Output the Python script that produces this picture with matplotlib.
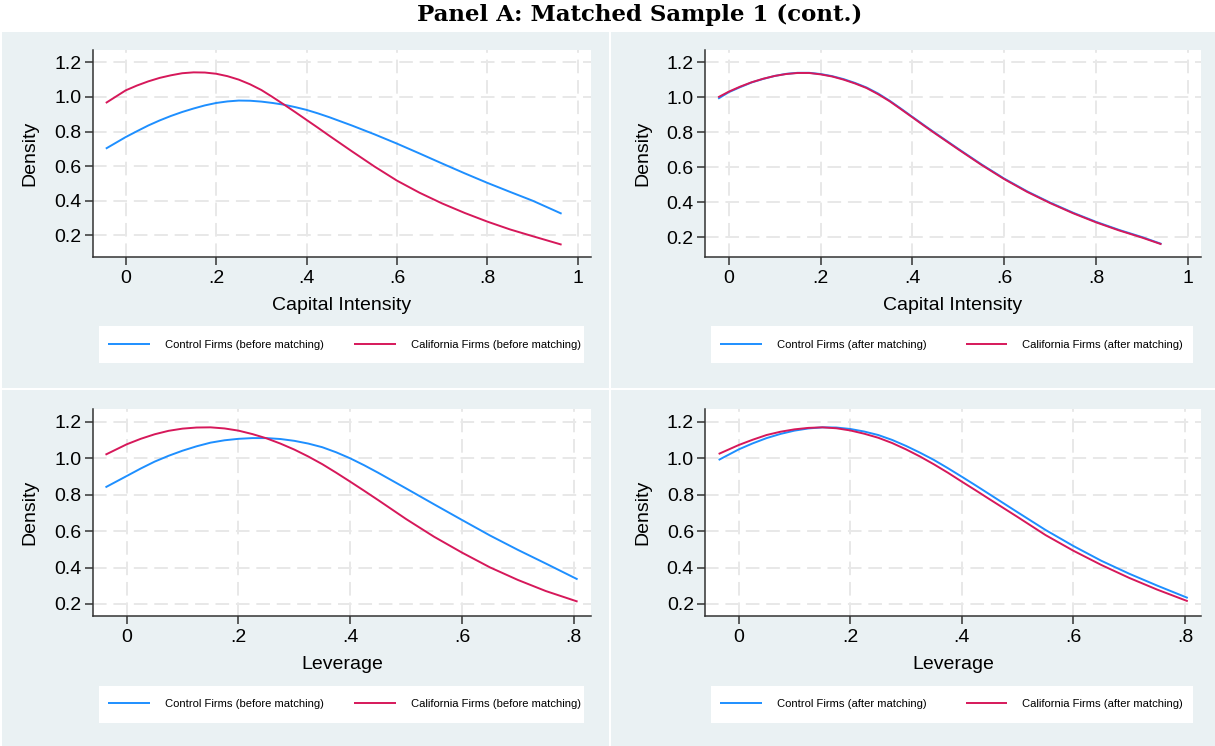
import matplotlib
matplotlib.use("Agg")
import matplotlib.pyplot as plt
from matplotlib.patches import Rectangle

# ---------------- data ----------------
ci_before_x = [-0.044, 0.0, 0.025, 0.05, 0.075, 0.10, 0.125, 0.15, 0.175, 0.20, 0.225,
               0.25, 0.275, 0.30, 0.325, 0.35, 0.375, 0.40, 0.425, 0.45,
               0.50, 0.55, 0.60, 0.65, 0.70, 0.75, 0.80, 0.85, 0.90, 0.964]
ci_ctrl_before = [0.701, 0.768, 0.802, 0.835, 0.864, 0.890, 0.913, 0.933, 0.951, 0.965, 0.974,
                  0.979, 0.978, 0.973, 0.965, 0.955, 0.941, 0.925, 0.905, 0.883,
                  0.835, 0.784, 0.730, 0.673, 0.615, 0.558, 0.503, 0.451, 0.400, 0.325]
ci_cal_before = [0.965, 1.038, 1.066, 1.090, 1.110, 1.125, 1.137, 1.142, 1.141, 1.134, 1.120,
                 1.100, 1.073, 1.040, 0.999, 0.956, 0.912, 0.867, 0.822, 0.776,
                 0.686, 0.598, 0.516, 0.446, 0.384, 0.329, 0.279, 0.234, 0.195, 0.146]

ci_after_x = [-0.023, 0.0, 0.025, 0.05, 0.075, 0.10, 0.125, 0.15, 0.175, 0.20, 0.225,
              0.25, 0.275, 0.30, 0.325, 0.35, 0.375, 0.40, 0.425, 0.45,
              0.50, 0.55, 0.60, 0.65, 0.70, 0.75, 0.80, 0.85, 0.90, 0.942]
ci_ctrl_after = [0.992, 1.029, 1.058, 1.085, 1.105, 1.122, 1.134, 1.140, 1.140, 1.133, 1.121,
                 1.104, 1.082, 1.056, 1.022, 0.981, 0.935, 0.888, 0.841, 0.795,
                 0.705, 0.617, 0.535, 0.462, 0.398, 0.340, 0.288, 0.242, 0.201, 0.162]
ci_cal_after = [1.000, 1.032, 1.061, 1.086, 1.106, 1.122, 1.133, 1.139, 1.139, 1.131, 1.119,
                1.101, 1.079, 1.053, 1.018, 0.978, 0.932, 0.885, 0.838, 0.792,
                0.702, 0.614, 0.532, 0.459, 0.395, 0.337, 0.285, 0.239, 0.198, 0.160]

lev_before_x = [-0.038, 0.0, 0.025, 0.05, 0.075, 0.10, 0.125, 0.15, 0.175, 0.20, 0.225,
                0.25, 0.275, 0.30, 0.325, 0.35, 0.375, 0.40, 0.425, 0.45,
                0.50, 0.55, 0.60, 0.65, 0.70, 0.75, 0.807]
lev_ctrl_before = [0.840, 0.902, 0.943, 0.981, 1.013, 1.041, 1.065, 1.085, 1.098, 1.106, 1.110,
                   1.110, 1.105, 1.095, 1.080, 1.060, 1.032, 0.999, 0.961, 0.920,
                   0.834, 0.747, 0.661, 0.576, 0.497, 0.422, 0.335]
lev_cal_before = [1.019, 1.076, 1.106, 1.131, 1.150, 1.162, 1.168, 1.169, 1.163, 1.151, 1.132,
                  1.109, 1.080, 1.047, 1.009, 0.967, 0.920, 0.871, 0.821, 0.770,
                  0.666, 0.569, 0.482, 0.401, 0.332, 0.271, 0.213]

lev_after_x = [-0.036, 0.0, 0.025, 0.05, 0.075, 0.10, 0.125, 0.15, 0.175, 0.20, 0.225,
               0.25, 0.275, 0.30, 0.325, 0.35, 0.375, 0.40, 0.425, 0.45,
               0.50, 0.55, 0.60, 0.65, 0.70, 0.75, 0.805]
lev_ctrl_after = [0.990, 1.048, 1.081, 1.110, 1.133, 1.151, 1.163, 1.169, 1.168, 1.160, 1.146,
                  1.127, 1.100, 1.067, 1.030, 0.990, 0.945, 0.898, 0.850, 0.801,
                  0.703, 0.606, 0.518, 0.437, 0.366, 0.301, 0.233]
lev_cal_after = [1.023, 1.072, 1.101, 1.127, 1.145, 1.158, 1.166, 1.169, 1.164, 1.152, 1.134,
                 1.112, 1.083, 1.048, 1.009, 0.966, 0.920, 0.871, 0.823, 0.774,
                 0.677, 0.578, 0.492, 0.414, 0.343, 0.279, 0.215]

y_ticks = [0.2, 0.4, 0.6, 0.8, 1.0, 1.2]
y_ticklabels = ["0.2", "0.4", "0.6", "0.8", "1.0", "1.2"]
ci_xticks = [0, 0.2, 0.4, 0.6, 0.8, 1.0]
ci_xticklabels = ["0", ".2", ".4", ".6", ".8", "1"]
lev_xticks = [0, 0.2, 0.4, 0.6, 0.8]
lev_xticklabels = ["0", ".2", ".4", ".6", ".8"]

title = "Panel A: Matched Sample 1 (cont.)"
ctrl_before_label = "Control Firms (before matching)"
cal_before_label = "California Firms (before matching)"
ctrl_after_label = "Control Firms (after matching)"
cal_after_label = "California Firms (after matching)"

# ---------------- style ----------------
plt.rcParams["font.family"] = ["Liberation Sans", "DejaVu Sans"]
BLUE = "#1E8FFF"
RED = "#D6185A"
BG = "#EAF1F3"
GRID = "#E8E8E8"
SPINE = "#333333"
LW = 1.4

W, H = 1215.0, 746.0


def fx(px):
    return px / W


def fy(py):
    return 1.0 - py / H


fig = plt.figure(figsize=(12.15, 7.46), dpi=100, facecolor="white")

# panel backgrounds (pixel boxes: left, top, right, bottom)
for (l, t, r, b) in [(2, 32, 609, 388), (611, 32, 1215, 388),
                     (2, 390, 609, 746), (611, 390, 1215, 746)]:
    fig.add_artist(Rectangle((fx(l), fy(b)), fx(r) - fx(l), fy(t) - fy(b),
                             transform=fig.transFigure, facecolor=BG,
                             edgecolor="none", zorder=-2))

fig.text(fx(640), fy(15), title, ha="center", va="center",
         family="DejaVu Serif", fontweight="bold", fontsize=16.5, color="black")


def make_panel(box, xlim, ylim, xticks, xticklabels, xlabel, xs, ys_ctrl, ys_cal,
               labels, legbox, leg_x, leg_y):
    l, t, r, b = box
    ax = fig.add_axes([fx(l), fy(b), fx(r) - fx(l), fy(t) - fy(b)])
    ax.set_facecolor("white")
    ax.set_xlim(*xlim)
    ax.set_ylim(*ylim)
    ax.set_xticks(xticks)
    ax.set_xticklabels(xticklabels)
    ax.set_yticks(y_ticks)
    ax.set_yticklabels(y_ticklabels)
    for s in ["top", "right"]:
        ax.spines[s].set_visible(False)
    for s in ["left", "bottom"]:
        ax.spines[s].set_color(SPINE)
        ax.spines[s].set_linewidth(1.1)
    ax.tick_params(axis="both", direction="out", length=5.8, width=1.1,
                   color=SPINE, labelsize=14, labelcolor="black")
    ax.tick_params(axis="x", pad=3.6)
    ax.tick_params(axis="y", pad=2.4)
    ax.grid(True, color=GRID, linewidth=1.4, linestyle=(0, (7, 3.5)))
    ax.set_axisbelow(True)
    l1, = ax.plot(xs, ys_ctrl, color=BLUE, lw=LW, solid_capstyle="butt",
                  solid_joinstyle="round", zorder=3)
    l2, = ax.plot(xs, ys_cal, color=RED, lw=LW, solid_capstyle="butt",
                  solid_joinstyle="round", zorder=4)
    ax.set_xlabel(xlabel, fontsize=14, va="center")
    ax.xaxis.set_label_coords(0.5, -0.235)
    ax.set_ylabel("Density", fontsize=14, va="center")
    ax.yaxis.set_label_coords(-0.126, 0.5)

    # legend box
    bl, bt, br, bb = legbox
    fig.add_artist(Rectangle((fx(bl), fy(bb)), fx(br) - fx(bl), fy(bt) - fy(bb),
                             transform=fig.transFigure, facecolor="white",
                             edgecolor="none", zorder=-1))
    for handle, lab, x in zip([l1, l2], labels, leg_x):
        fig.legend(handles=[handle], labels=[lab], loc="center left",
                   bbox_to_anchor=(fx(x), fy(leg_y)), bbox_transform=fig.transFigure,
                   frameon=False, borderpad=0, borderaxespad=0,
                   handlelength=3.73, handletextpad=1.3, fontsize=8.1)
    return ax


make_panel((92.7, 49.7, 591, 257), (-0.073, 1.029), (0.0747, 1.273),
           ci_xticks, ci_xticklabels, "Capital Intensity",
           ci_before_x, ci_ctrl_before, ci_cal_before,
           [ctrl_before_label, cal_before_label],
           (99, 326, 584, 363), [108, 354], 345)

make_panel((705, 49.7, 1201, 257), (-0.0516, 1.028), (0.0874, 1.272),
           ci_xticks, ci_xticklabels, "Capital Intensity",
           ci_after_x, ci_ctrl_after, ci_cal_after,
           [ctrl_after_label, cal_after_label],
           (711, 326, 1193, 363), [720.4, 965.5], 345)

make_panel((92.7, 409.3, 591, 616), (-0.0609, 0.831), (0.134, 1.268),
           lev_xticks, lev_xticklabels, "Leverage",
           lev_before_x, lev_ctrl_before, lev_cal_before,
           [ctrl_before_label, cal_before_label],
           (99, 686, 584, 723), [108, 354], 704)

make_panel((705.3, 409.3, 1201, 616), (-0.0599, 0.8287), (0.134, 1.268),
           lev_xticks, lev_xticklabels, "Leverage",
           lev_after_x, lev_ctrl_after, lev_cal_after,
           [ctrl_after_label, cal_after_label],
           (711, 686, 1193, 723), [720.4, 965.5], 704)

fig.savefig("out.png", dpi=100, facecolor="white")
